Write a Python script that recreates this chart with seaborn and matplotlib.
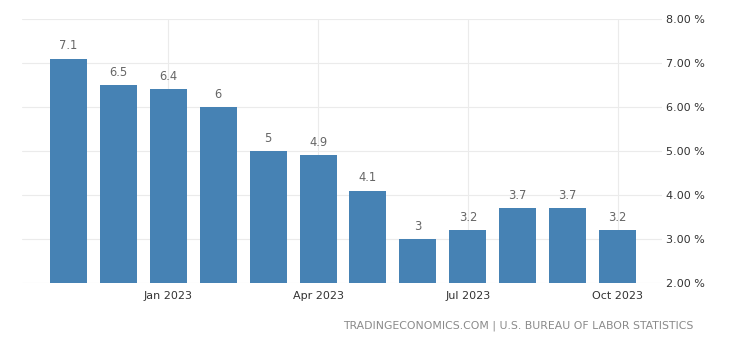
import matplotlib
matplotlib.use("Agg")
import matplotlib.pyplot as plt
import seaborn as sns
import pandas as pd
from matplotlib.ticker import FuncFormatter

months = ["Nov 2022", "Dec 2022", "Jan 2023", "Feb 2023", "Mar 2023", "Apr 2023",
          "May 2023", "Jun 2023", "Jul 2023", "Aug 2023", "Sep 2023", "Oct 2023"]
values = [7.1, 6.5, 6.4, 6.0, 5.0, 4.9, 4.1, 3.0, 3.2, 3.7, 3.7, 3.2]
value_labels = ["7.1", "6.5", "6.4", "6", "5", "4.9", "4.1", "3", "3.2", "3.7", "3.7", "3.2"]
tick_months = ["Jan 2023", "Apr 2023", "Jul 2023", "Oct 2023"]
y_ticks = [2, 3, 4, 5, 6, 7, 8]
footer = "TRADINGECONOMICS.COM | U.S. BUREAU OF LABOR STATISTICS"

sns.set_theme(style="white")
plt.rcParams["font.family"] = ["DejaVu Sans"]

df = pd.DataFrame({"month": months, "value": values})

fig = plt.figure(figsize=(7.4, 3.45), dpi=100)
ax = fig.add_axes([22/740, 1-283/345, 640/740, 264/345])

sns.barplot(data=df, x="month", y="value", color="#4682b4", saturation=1,
            width=0.74, linewidth=0, ax=ax, zorder=3)

for i, (v, lab) in enumerate(zip(values, value_labels)):
    ax.annotate(lab, (i, v), xytext=(0, 4.5), textcoords="offset points",
                ha="center", va="bottom", fontsize=8.3, color="#666666", zorder=4)

ax.set_ylim(2, 8)
ax.set_xlim(-0.93, 11.89)
ax.set_yticks(y_ticks)
ax.yaxis.tick_right()
ax.yaxis.set_major_formatter(FuncFormatter(lambda v, p: f"{v:.2f} %"))
ax.set_xticks([months.index(m) for m in tick_months])
ax.set_xticklabels(tick_months)
ax.tick_params(axis="both", length=0, labelsize=8, colors="#333333")
ax.tick_params(axis="y", pad=3)
ax.tick_params(axis="x", pad=6)
ax.set_xlabel("")
ax.set_ylabel("")
ax.grid(True, axis="both", color="#ebebeb", linewidth=0.8, zorder=0)
ax.set_axisbelow(True)
for s in ax.spines.values():
    s.set_visible(False)

fig.text(693/740, 1-326/345, footer, ha="right", va="center",
         fontsize=7.8, color="#8a8a8a", family=["DejaVu Sans"])

fig.savefig("out.png", dpi=100, facecolor="white")
